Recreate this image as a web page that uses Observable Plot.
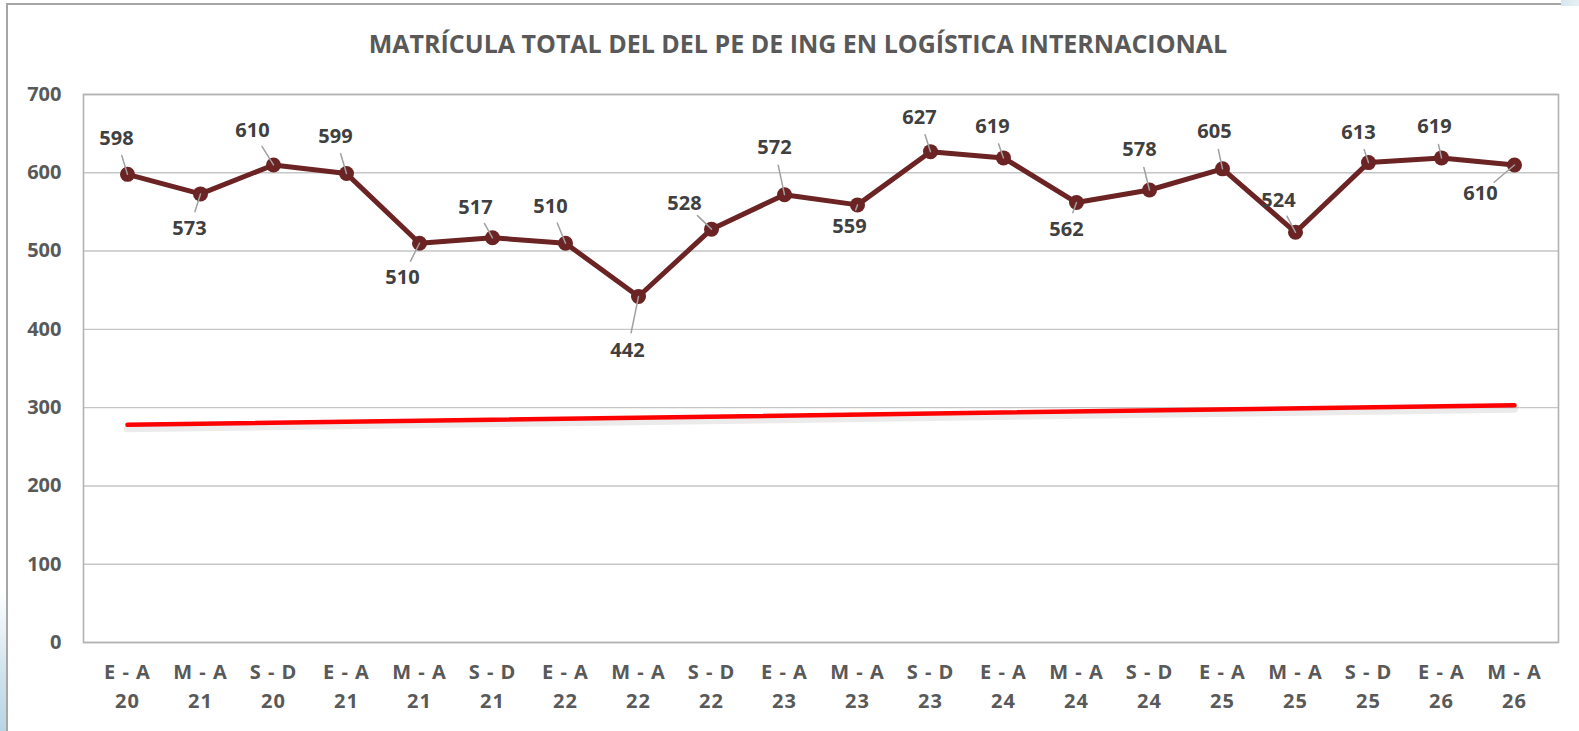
<!DOCTYPE html>
<html>
<head>
<meta charset="utf-8">
<script src="https://cdn.jsdelivr.net/npm/d3@7"></script>
<script src="https://cdn.jsdelivr.net/npm/@observablehq/plot@0.6"></script>
<style>
  html, body { margin: 0; padding: 0; background: #ffffff; }
  #wrap { position: relative; width: 1579px; height: 731px; overflow: hidden; font-family: "Open Sans", Lato, sans-serif; }
  #title { height: 75px; box-sizing: border-box; padding-top: 30px; width: 1596px; text-align: center;
           font-size: 25px; line-height: 26px; font-weight: 700; color: #595959; letter-spacing: 0px; }
  #borderTop { position: absolute; left: 6px; top: 3px; width: 1555px; height: 2px; background: #a6a6a6; }
  #borderLeft { position: absolute; left: 6px; top: 3px; width: 2px; height: 740px; background: #a6a6a6; }
  #cornerTR { position: absolute; left: 1561px; top: 0; width: 18px; height: 6px; background: linear-gradient(90deg, #d6e6ee, #e8f1f5); }
  #cornerBL { position: absolute; left: 0; top: 590px; width: 6px; height: 141px; background: linear-gradient(180deg, #ffffff, #cfe2ec 60%, #b9d5e4); }
  #chart { position: absolute; left: 0; top: 75px; }
  #chart g[aria-label="x-axis tick label"] text { letter-spacing: 1px; }
</style>
</head>
<body>
<div id="wrap">
  <div id="borderTop"></div>
  <div id="borderLeft"></div>
  <div id="cornerTR"></div>
  <div id="cornerBL"></div>
  <div id="title">MATRÍCULA TOTAL DEL DEL PE DE ING EN LOGÍSTICA INTERNACIONAL</div>
  <div id="chart"></div>
</div>
<script>
// ---- data ----
const categories = [
  "E - A\n20", "M - A\n21", "S - D\n20", "E - A\n21", "M - A\n21",
  "S - D\n21", "E - A\n22", "M - A\n22", "S - D\n22", "E - A\n23",
  "M - A\n23", "S - D\n23", "E - A\n24", "M - A\n24", "S - D\n24",
  "E - A\n25", "M - A\n25", "S - D\n25", "E - A\n26", "M - A\n26"
];
const enrollment = [598, 573, 610, 599, 510, 517, 510, 442, 528, 572,
                    559, 627, 619, 562, 578, 605, 524, 613, 619, 610];
const trendValues = [278, 303];            // red reference line, first and last period
const yTicks = [0, 100, 200, 300, 400, 500, 600, 700];

// ---- label placement (pixel offsets from each point) ----
const labelDx = [-11, -11, -21, -11, -17, -17, -15, -11, -27, -10,
                 -8, -11, -11, -10, -10, -8, -17, -10, -7, -34];
const labelDy = [-36, 35, -34, -37, 34, -30, -37, 54, -26, -47,
                 22, -34, -31, 27, -40, -37, -32, -30, -31, 29];

// ---- build ----
const idx = d3.range(categories.length);
const points = idx.map(i => ({i, v: enrollment[i]}));
const trend = [{i: 0, v: trendValues[0]}, {i: categories.length - 1, v: trendValues[1]}];
const leaders = idx.map(i => {
  const dx = labelDx[i], dy = labelDy[i];
  const dist = Math.hypot(dx, dy);
  return {i, v: enrollment[i], len: Math.max(0, dist - 18), rot: Math.atan2(dx, -dy) * 180 / Math.PI};
});

const lineShape = { draw(context, l) { context.moveTo(0, 0); context.lineTo(0, -l); } };
const maroon = "#6b2323";
const font = "'Open Sans', Lato, sans-serif";

const labelMarks = points.map((p, i) =>
  Plot.text([p], {x: "i", y: "v", text: d => String(d.v), dx: labelDx[i], dy: labelDy[i],
                  fontSize: 20, fontWeight: 700, fill: "#404040", textAnchor: "middle"}));

const chart = Plot.plot({
  width: 1579,
  height: 656,
  marginTop: 19,
  marginBottom: 89,
  marginLeft: 83,
  marginRight: 21,
  style: {fontFamily: font, background: "transparent", overflow: "visible"},
  x: {type: "point", domain: idx, padding: 0.5},
  y: {domain: [0, 700]},
  length: {type: "identity"},
  marks: [
    Plot.gridY(yTicks, {stroke: "#c6c6c6", strokeOpacity: 1, strokeWidth: 1.4}),
    Plot.frame({stroke: "#b2b2b2", strokeWidth: 1.6}),
    Plot.axisY(yTicks, {tickSize: 0, tickPadding: 22, fontSize: 20, fontWeight: 700, fill: "#595959", label: null}),
    Plot.axisX(idx, {tickSize: 0, tickPadding: 16, tickFormat: i => categories[i], fontSize: 20, fontWeight: 700,
                     fill: "#595959", lineHeight: 1.46, label: null}),
    Plot.line(trend, {x: "i", y: "v", stroke: "#000", strokeOpacity: 0.08, strokeWidth: 7, dy: 4}),
    Plot.line(trend, {x: "i", y: "v", stroke: "#ff0000", strokeWidth: 4.5}),
    Plot.line(points, {x: "i", y: "v", stroke: maroon, strokeWidth: 5, strokeLinejoin: "round"}),
    Plot.dot(points, {x: "i", y: "v", r: 7.5, fill: maroon, stroke: "none"}),
    Plot.vector(leaders, {x: "i", y: "v", length: "len", rotate: "rot", anchor: "start", shape: lineShape,
                          stroke: "#a0a0a0", strokeWidth: 1.5}),
    ...labelMarks
  ]
});
document.getElementById("chart").appendChild(chart);
</script>
</body>
</html>
